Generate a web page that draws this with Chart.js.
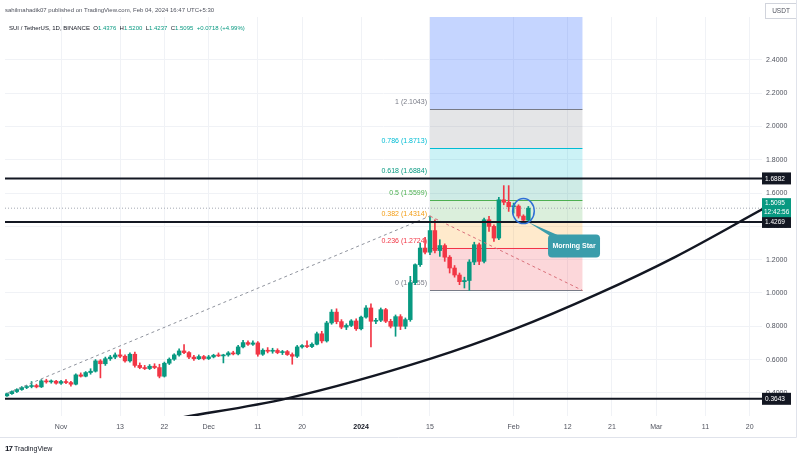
<!DOCTYPE html>
<html>
<head>
<meta charset="utf-8">
<script src="https://cdn.jsdelivr.net/npm/chart.js@4.4.1/dist/chart.umd.min.js"></script>
<style>
  body { margin: 0; background: #fff; }
  #wrap { position: relative; width: 800px; height: 460px; font-family: "Liberation Sans", Arial, sans-serif; }
  #wrap canvas { position: absolute; left: 0; top: 0; }
  .txt { position: absolute; white-space: nowrap; font-size: 6px; line-height: 8px; z-index: 2; }
  .v { color: #089981; }
  .logo { font-weight: bold; font-size: 8px; letter-spacing: -1px; margin-right: 2px; }
</style>
</head>
<body>
<div id="wrap">
  <canvas id="chart"></canvas>
  <div class="txt" style="left:5px; top:6px; color:#50535e;">sahilmahadik07 published on TradingView.com, Feb 04, 2024 16:47 UTC+5:30</div>
  <div class="txt" style="left:9px; top:24px; color:#131722;">SUI / TetherUS, 1D, BINANCE&nbsp; O<span class="v">1.4376</span>&nbsp; H<span class="v">1.5200</span>&nbsp; L<span class="v">1.4237</span>&nbsp; C<span class="v">1.5095</span>&nbsp; <span class="v">+0.0718 (+4.99%)</span></div>
  <div class="txt" style="left:5px; top:445px; color:#131722; font-size:7px;"><span class="logo">17</span>TradingView</div>
</div>
<script>
// daily candles, first one on this date
const firstCandle = '2023-10-21';
const opens = [
  .382,.395,.408,.420,.432,.438,.444,.436,.472,.466,.470,
  .458,.468,.462,.452,.508,.500,.522,.530,.592,.575, .605,.615,.628,.620,.592,.632,.565,.552,.546,.560, .552,.500,.578,.602,.628,.652,.642,.615,.605,.618,
  .606,.616,.626,.622,.628,.640,.634,.676,.702,.692, .700,.632,.656,.650,.655,.642,.648,.630,.620,.676, .684,.678,.692,.755,.712,.820,.885,.828,.795,.805, .832,
  .785,.855,.910,.830,.836,.900,.830,.800,.858,.800, .840,1.062,1.170,1.270,1.245,1.375,1.255,1.285,1.215,1.150, 1.108,1.068,1.075,1.186,1.290,1.190,1.440,1.400,1.330,1.560, 1.545,
  1.518,1.522,1.462,1.4376
];
const highs = [
  .398,.412,.425,.438,.445,.468,.452,.480,.482,.478,.476,
  .475,.480,.470,.515,.520,.528,.545,.600,.600,.615, .625,.640,.660,.628,.640,.645,.580,.565,.570,.575, .572,.585,.610,.635,.665,.690,.648,.625,.628,.625,
  .625,.632,.640,.632,.648,.650,.685,.715,.712,.712, .708,.665,.672,.668,.665,.655,.655,.640,.685,.690, .712,.700,.765,.770,.830,.900,.905,.840,.815,.840, .845,
  .862,.925,.935,.848,.910,.908,.842,.868,.870,.850, 1.100,1.175,1.300,1.335,1.462,1.440,1.320,1.295,1.225,1.165, 1.120,1.095,1.200,1.305,1.300,1.450,1.460,1.410,1.575,1.645, 1.645,
  1.540,1.530,1.470,1.520
];
const lows = [
  .378,.390,.402,.415,.425,.430,.430,.432,.458,.458,.452,
  .450,.455,.440,.448,.495,.496,.512,.525,.490,.565, .595,.605,.612,.585,.585,.555,.545,.540,.540,.545, .490,.495,.570,.595,.620,.635,.605,.595,.600,.598,
  .600,.610,.618,.580,.620,.628,.628,.670,.685,.685, .620,.625,.640,.638,.635,.630,.625,.572,.612,.668, .672,.672,.688,.700,.705,.812,.815,.785,.780,.798, .775,
  .778,.848,.676,.815,.828,.822,.790,.740,.780,.785, .830,1.050,1.160,1.235,1.230,1.240,1.220,1.190,1.120,1.095, 1.050,1.030,1.0155,1.170,1.170,1.180,1.370,1.310,1.320,1.530, 1.490,
  1.480,1.450,1.420,1.4237
];
const closes = [
  .395,.408,.420,.432,.438,.444,.436,.472,.466,.470,.458,
  .468,.462,.452,.508,.500,.522,.530,.592,.575,.605, .615,.628,.620,.592,.632,.565,.552,.546,.560,.552, .500,.578,.602,.628,.652,.642,.615,.605,.618,.606,
  .616,.626,.622,.628,.640,.634,.676,.702,.692,.700, .632,.656,.650,.655,.642,.648,.630,.620,.676,.684, .678,.692,.755,.712,.820,.885,.828,.795,.805,.832, .785,
  .855,.910,.830,.836,.900,.830,.800,.858,.800,.840, 1.062,1.170,1.270,1.245,1.375,1.255,1.285,1.215,1.150,1.108, 1.068,1.075,1.186,1.290,1.190,1.440,1.400,1.330,1.560,1.545, 1.518,
  1.522,1.462,1.4376,1.5095
];

const xTickDates = ['2023-11-01','2023-11-13','2023-11-22','2023-12-01','2023-12-11','2023-12-20','2024-01-01','2024-01-15','2024-02-01','2024-02-12','2024-02-21','2024-03-01','2024-03-11','2024-03-20'];
const xTickLabels = ['Nov','13','22','Dec','11','20','2024','15','Feb','12','21','Mar','11','20'];
const yTicks = [0.4, 0.6, 0.8, 1.0, 1.2, 1.4, 1.6, 1.8, 2.0, 2.2, 2.4];
const viewDays = [-11.4, 142.5];   // visible range, days from 2023-11-01
const yRange = [0.261, 2.658];

const levelPrices = [1.6882, 1.4269, 0.3643];
const lastPrice = 1.5095;
const countdown = '12:42:56';

const fibLevels = [0, 0.236, 0.382, 0.5, 0.618, 0.786, 1, 1.618];
const fibPrices = [1.0155, 1.2724, 1.4314, 1.5599, 1.6884, 1.8713, 2.1043, 2.7772];
const fibDates = ['2024-01-15', '2024-02-15'];

const trendDates = ['2023-10-20', '2024-01-15', '2024-02-15'];
const trendPrices = [0.385, 1.462, 1.0155];

const curveDates = ['2023-11-25','2023-12-17','2024-01-15','2024-02-01','2024-02-18','2024-03-05','2024-03-23'];
const curvePrices = [0.249, 0.367, 0.604, 0.781, 0.993, 1.219, 1.510];

const starCenter = ['2024-02-03', 1.492];
const starAnchor = ['2024-02-04', 1.425];
const starBox = ['2024-02-08', 1.352];
const starText = 'Morning Star';

const UP = '#089981', DOWN = '#f23645', INK = '#131722';
const FONT = '"Liberation Sans", Arial, sans-serif';
const fibColors = ['#787b86','#f23645','#f39c12','#4caf50','#089981','#00bcd4','#787b86','#2962ff'];
const fibFills = ['rgba(242,54,69,0.2)','rgba(255,152,0,0.2)','rgba(76,175,80,0.2)','rgba(8,153,129,0.2)',
                  'rgba(0,188,212,0.2)','rgba(120,123,134,0.2)','rgba(41,98,255,0.27)'];

const dayNum = s => (Date.parse(s + 'T00:00:00Z') - Date.parse('2023-11-01T00:00:00Z')) / 864e5;
const day0 = dayNum(firstCandle);
const candleColor = closes.map((c, i) => c >= opens[i] ? UP : DOWN);

const wicks = lows.map((l, i) => ({ x: day0 + i, y: [l, highs[i]] }));
const bodies = opens.map((o, i) => ({ x: day0 + i, y: [o, closes[i]] }));
const flat = p => [{ x: viewDays[0], y: p }, { x: viewDays[1], y: p }];

const overlay = {
  id: 'overlay',
  beforeDatasetsDraw(chart) {
    const { ctx, chartArea: a, scales: { x, y } } = chart;
    const x0 = x.getPixelForValue(dayNum(fibDates[0])), x1 = x.getPixelForValue(dayNum(fibDates[1]));
    ctx.save();
    ctx.beginPath(); ctx.rect(a.left, a.top, a.width, a.height); ctx.clip();
    for (let i = 0; i < fibPrices.length - 1; i++) {
      const ya = y.getPixelForValue(fibPrices[i]), yb = y.getPixelForValue(fibPrices[i + 1]);
      ctx.fillStyle = fibFills[i];
      ctx.fillRect(x0, yb, x1 - x0, ya - yb);
    }
    fibPrices.forEach((p, i) => {
      const py = Math.round(y.getPixelForValue(p)) + 0.5;
      ctx.strokeStyle = fibColors[i]; ctx.lineWidth = 1;
      ctx.beginPath(); ctx.moveTo(x0, py); ctx.lineTo(x1, py); ctx.stroke();
    });
    ctx.restore();
    ctx.save();
    ctx.font = '7px ' + FONT;
    ctx.textAlign = 'right'; ctx.textBaseline = 'middle';
    fibPrices.forEach((p, i) => {
      const py = y.getPixelForValue(p);
      if (py < a.top) return;
      ctx.fillStyle = fibColors[i];
      ctx.fillText(fibLevels[i] + ' (' + p.toFixed(4) + ')', x0 - 3, py - 7);
    });
    ctx.restore();
  },
  afterDraw(chart) {
    const { ctx, chartArea: a, scales: { x, y } } = chart;
    ctx.save();
    // circle round the pattern
    const cx = x.getPixelForValue(dayNum(starCenter[0])), cy = y.getPixelForValue(starCenter[1]);
    const rx = x.getPixelForValue(dayNum(starCenter[0]) + 2.2) - cx;
    const ry = y.getPixelForValue(starCenter[1] - 0.075) - cy;
    ctx.strokeStyle = '#2f6fd6'; ctx.lineWidth = 1.5;
    ctx.beginPath(); ctx.ellipse(cx, cy, rx, ry, 0, 0, Math.PI * 2); ctx.stroke();
    // callout
    const ax = x.getPixelForValue(dayNum(starAnchor[0])), ay = y.getPixelForValue(starAnchor[1]);
    const bx = x.getPixelForValue(dayNum(starBox[0])), by = y.getPixelForValue(starBox[1]);
    ctx.fillStyle = '#3a9dab';
    ctx.beginPath(); ctx.moveTo(ax, ay); ctx.lineTo(bx + 3, by + 2); ctx.lineTo(bx + 13, by + 2); ctx.closePath(); ctx.fill();
    ctx.beginPath(); ctx.roundRect(bx, by, 52, 23, 4); ctx.fill();
    ctx.fillStyle = '#fff'; ctx.font = 'bold 7px ' + FONT;
    ctx.textAlign = 'center'; ctx.textBaseline = 'middle';
    ctx.fillText(starText, bx + 26, by + 12);

    // price tags on the right axis
    ctx.font = '6.5px ' + FONT; ctx.textAlign = 'left';
    const tagX = a.right, tagW = 29;
    levelPrices.forEach(p => {
      const py = y.getPixelForValue(p);
      ctx.fillStyle = INK; ctx.fillRect(tagX, py - 6, tagW, 12);
      ctx.fillStyle = '#fff'; ctx.fillText(p.toFixed(4), tagX + 3, py + 0.5);
    });
    const lp = y.getPixelForValue(lastPrice);
    ctx.fillStyle = UP; ctx.fillRect(tagX, lp - 10, tagW, 19);
    ctx.fillStyle = '#fff';
    ctx.fillText(lastPrice.toFixed(4), tagX + 3, lp - 5);
    ctx.fillText(countdown, tagX + 2, lp + 4.5);

    // currency box
    ctx.strokeStyle = '#d1d4dc'; ctx.lineWidth = 1;
    ctx.strokeRect(a.right + 3.5, 3.5, 31, 15);
    ctx.fillStyle = '#50535e'; ctx.font = '6.5px ' + FONT; ctx.textAlign = 'center';
    ctx.fillText('USDT', a.right + 19, 11.5);

    // pane frame
    ctx.strokeStyle = '#e0e3eb';
    ctx.beginPath();
    ctx.moveTo(0, 437.5); ctx.lineTo(796.5, 437.5); ctx.lineTo(796.5, 0);
    ctx.stroke();
    ctx.restore();
  }
};

new Chart(document.getElementById('chart'), {
  type: 'bar',
  data: {
    datasets: [
      { type: 'line', data: flat(lastPrice), borderColor: '#a3a8b3', borderWidth: 1, borderDash: [1, 2], pointRadius: 0, clip: 0, order: 6 },
      { data: wicks, backgroundColor: candleColor, barThickness: 1, grouped: false, order: 5 },
      { data: bodies, backgroundColor: candleColor, barThickness: 3.8, minBarLength: 1, grouped: false, order: 4 },
      { type: 'line', data: trendDates.slice(0, 2).map((d, i) => ({ x: dayNum(d), y: trendPrices[i] })),
        borderColor: '#8f939d', borderWidth: 1, borderDash: [3, 3], pointRadius: 0, clip: 0, order: 3 },
      { type: 'line', data: trendDates.slice(1).map((d, i) => ({ x: dayNum(d), y: trendPrices[i + 1] })),
        borderColor: '#d9707a', borderWidth: 1, borderDash: [3, 3], pointRadius: 0, clip: 0, order: 3 },
      ...levelPrices.map(p => ({ type: 'line', data: flat(p), borderColor: INK, borderWidth: 2, pointRadius: 0, clip: 0, order: 2 })),
      { type: 'line', data: curveDates.map((d, i) => ({ x: dayNum(d), y: curvePrices[i] })),
        borderColor: INK, borderWidth: 2.5, pointRadius: 0, cubicInterpolationMode: 'monotone', clip: 0, order: 1 }
    ]
  },
  options: {
    responsive: true,
    maintainAspectRatio: false,
    animation: false,
    layout: { padding: { left: 5, right: 0, top: 17, bottom: 18 } },
    plugins: { legend: { display: false }, tooltip: { enabled: false } },
    scales: {
      x: {
        type: 'linear', min: viewDays[0], max: viewDays[1], offset: false,
        afterFit: s => { s.height = 26; },
        afterBuildTicks: s => { s.ticks = xTickDates.map(d => ({ value: dayNum(d) })); },
        ticks: {
          autoSkip: false, maxRotation: 0, padding: 7,
          font: c => ({ family: FONT, size: 7, weight: xTickLabels[c.index] === '2024' ? 'bold' : 'normal' }),
          color: c => xTickLabels[c.index] === '2024' ? INK : '#50535e',
          callback: (v, i) => xTickLabels[i]
        },
        grid: { color: '#f0f2f6', drawTicks: false, offset: false },
        border: { display: false }
      },
      y: {
        position: 'right', min: yRange[0], max: yRange[1],
        afterFit: s => { s.width = 38; },
        afterBuildTicks: s => { s.ticks = yTicks.map(v => ({ value: v })); },
        ticks: { padding: 4, crossAlign: 'near', font: { family: FONT, size: 7 }, color: '#50535e', callback: v => v.toFixed(4) },
        grid: { color: '#f0f2f6', drawTicks: false },
        border: { display: false }
      }
    }
  },
  plugins: [overlay]
});
</script>
</body>
</html>
